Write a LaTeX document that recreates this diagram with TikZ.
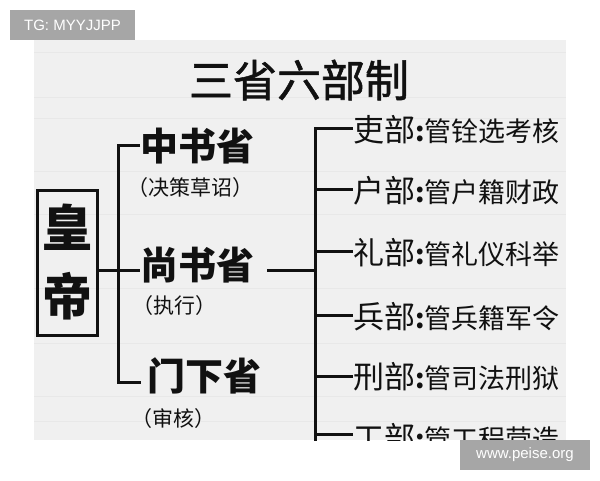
\documentclass[tikz,border=0pt]{standalone}
\usepackage{fontspec}
\setmainfont{Liberation Sans}
\newfontfamily\cjk{Noto Sans CJK SC}
\newfontfamily\cjkm[FakeBold=1.2]{Noto Sans CJK SC}
\definecolor{panel}{HTML}{F0F0F0}
\definecolor{stripe}{HTML}{E8E8E8}
\definecolor{wm}{HTML}{A6A6A6}
\definecolor{ink}{HTML}{111111}
\tikzset{
  conn/.style={line width=3pt, line join=miter, draw=ink},
  big/.style={inner sep=0pt, anchor=west, text=ink, font=\cjk\bfseries\fontsize{38}{40}\selectfont},
  note/.style={inner sep=0pt, anchor=west, text=ink, font=\cjk\fontsize{21}{23}\selectfont},
  dept/.style={inner sep=0pt, anchor=west, text=ink, font=\cjk\fontsize{31}{33}\selectfont},
  wmbox/.style={fill=wm, text=white, inner sep=0pt, font=\fontsize{15}{17}\selectfont}
}
\newcommand{\desc}[1]{{\fontsize{27}{28}\selectfont{\bfseries:}#1}}
\begin{document}
\begin{tikzpicture}[x=1pt,y=-1pt]
\useasboundingbox (0,0) rectangle (600,480);
\fill[white] (0,0) rectangle (600,480);
\fill[panel] (34,40) rectangle (566,440);
\foreach \yy in {52,97,118,171,214,288,343,396,421}{
  \fill[stripe] (34,\yy) rectangle (566,\yy+0.8);
}
\begin{scope}
\clip (34,40) rectangle (566,440);
% title
\node[inner sep=0pt, text=ink, font=\cjkm\fontsize{44}{46}\selectfont] (title) at (299,80) {三省六部制};
% emperor
\node[draw=ink, line width=3pt, minimum width=60pt, minimum height=145pt, inner sep=0pt, align=center, text=ink,
      font=\cjk\bfseries\fontsize{50}{69}\selectfont] (emp) at (67,262.5) {皇\\帝};
% three departments
\node[big] (zs) at (140,146) {中书省};
\node[note] (zsn) at (127,188) {（决策草诏）};
\node[big] (ss) at (140,265) {尚书省};
\node[note] (ssn) at (132,306) {（执行）};
\node[big] (mx) at (147,376) {门下省};
\node[note] (mxn) at (131,419) {（审核）};
% left connectors
\coordinate (ltop) at (118,145);
\coordinate (lmid) at (118,270);
\coordinate (lbot) at (118,382);
\draw[conn] (zs.west |- ltop) -- (ltop) -- (lbot) -- ([xshift=-6pt]mx.west |- lbot);
\draw[conn] (emp.east |- lmid) -- (ss.west |- lmid);
% six ministries
\node[dept] (d1) at (353,130) {吏部\desc{管铨选考核}};
\node[dept] (d2) at (353,191) {户部\desc{管户籍财政}};
\node[dept] (d3) at (353,253) {礼部\desc{管礼仪科举}};
\node[dept] (d4) at (353,317) {兵部\desc{管兵籍军令}};
\node[dept] (d5) at (353,377) {刑部\desc{管司法刑狱}};
\node[dept] (d6) at (353,438) {工部\desc{管工程营造}};
% right connectors
\coordinate (rtop) at (315,128);
\coordinate (rmid) at (315,270);
\coordinate (rbot) at (315,460);
\draw[conn] ([xshift=13pt]ss.east |- rmid) -- (rmid);
\draw[conn] (d1.west |- rtop) -- (rtop) -- (rbot);
\foreach \d/\yy in {d2/189,d3/251,d4/315,d5/376,d6/434}{
  \draw[conn] (rtop |- 0,\yy) -- (\d.west |- 0,\yy);
}
\end{scope}
% watermarks
\node[wmbox, minimum width=125pt, minimum height=30pt] (tg) at (72.5,25) {TG: MYYJJPP};
\node[wmbox, minimum width=130pt, minimum height=30pt] (www) at (525,455) {www.peise.org};
\end{tikzpicture}
\end{document}
